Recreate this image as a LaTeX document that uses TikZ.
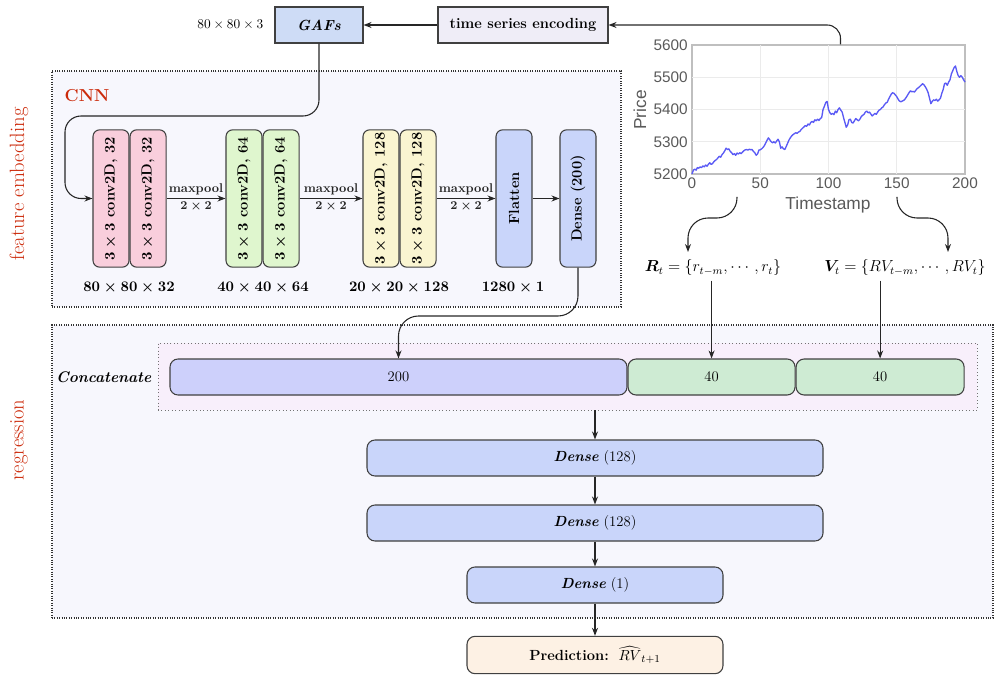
\documentclass[tikz,border=0pt]{standalone}
\usepackage{amsmath,amssymb,bm}
\usepackage{graphicx}
\usepackage{fontspec}
\newfontfamily\chartfont{Liberation Sans}
\usetikzlibrary{arrows.meta, positioning, backgrounds, calc}

\definecolor{labelred}{HTML}{CC2B0C}
\definecolor{regionbg}{HTML}{F7F7FD}
\definecolor{catbg}{HTML}{F8EFFB}
\definecolor{convpink}{HTML}{F9CEDC}
\definecolor{convgreen}{HTML}{DFF6CE}
\definecolor{convyellow}{HTML}{FAF5D1}
\definecolor{layerblue}{HTML}{C9D5FA}
\definecolor{catblue}{HTML}{CDD0FB}
\definecolor{catgreen}{HTML}{CEEBD3}
\definecolor{gafblue}{HTML}{CEDCF6}
\definecolor{encbg}{HTML}{EFEDF7}
\definecolor{predbg}{HTML}{FDF1E4}
\definecolor{chartline}{HTML}{5A5AF5}

\begin{document}
\begin{tikzpicture}[
    x=0.75pt, y=-0.75pt,
    font=\fontsize{11}{13}\selectfont,
    region/.style={rectangle, draw=black!80, densely dotted, line width=0.8pt, fill=regionbg, inner sep=0pt},
    sidelbl/.style={rotate=90, text=labelred, font=\fontsize{15.5}{18}\selectfont},
    topbox/.style={rectangle, draw=black!75, line width=0.8pt, minimum height=27pt, inner sep=0pt, font=\fontsize{11}{13}\selectfont\bfseries},
    convbox/.style={rectangle, draw=black!75, line width=0.8pt, rounded corners=5pt, minimum width=27pt, minimum height=103pt, inner sep=0pt, font=\fontsize{11}{13}\selectfont\bfseries\boldmath},
    dimlbl/.style={font=\fontsize{11}{13}\selectfont\bfseries\boldmath},
    poollbl/.style={font=\fontsize{9.5}{11}\selectfont\bfseries\boldmath, inner sep=2pt},
    catbox/.style={rectangle, draw=black!75, line width=0.8pt, rounded corners=6pt, minimum height=27pt, inner sep=0pt},
    densebox/.style={rectangle, draw=black!75, line width=0.8pt, rounded corners=6pt, fill=layerblue, minimum height=27pt, inner sep=0pt},
    ticklbl/.style={font=\chartfont\fontsize{11.5}{13}\selectfont, text=black!65, inner sep=1pt},
    gridline/.style={black!8, line width=0.6pt},
    arrow/.style={-{Stealth[length=6pt, width=4.5pt]}, line width=0.8pt, black!85}
]
    \useasboundingbox (0,0) rectangle (996,677);

    % Regions
    \node[region, minimum width=426.75pt, minimum height=177pt] (cnnreg) at (336.5,189) {};
    \node[region, minimum width=705.75pt, minimum height=219.75pt] (regreg) at (522.5,471.5) {};
    \node[sidelbl] (featlbl) at (19,184) {feature embedding};
    \node[sidelbl] (reglbl) at (19,440) {regression};
    \node[anchor=west, text=labelred, font=\fontsize{13}{15}\selectfont\bfseries] (cnnlbl) at (60,96) {CNN};

    % Input encoding
    \node[topbox, fill=gafblue, minimum width=66pt] (gafs) at (319,25) {\textit{GAFs}};
    \node[anchor=east, font=\fontsize{10}{12}\selectfont] (gafsize) at (268,25) {$80\times80\times3$};
    \node[topbox, fill=encbg, minimum width=127.5pt] (enc) at (523,25) {time series encoding};

    % Price chart
    \node[rectangle, draw=black!25, line width=0.8pt, fill=white, minimum width=204.75pt, minimum height=96.75pt, inner sep=0pt] (chart) at (828.5,109.5) {};
    \begin{scope}[shift={(692,174)}, x=1.02375pt, y=0.241875pt]
        \foreach \t in {50,100,150} \draw[gridline] (\t,0) -- (\t,400);
        \foreach \p in {100,200,300} \draw[gridline] (0,\p) -- (200,\p);
        \foreach \t in {0,50,...,200} \node[ticklbl, below] (xt\t) at (\t,-6) {\t};
        \foreach \p in {0,100,...,400} \node[ticklbl, left] (yt\p) at (-2,\p) {\the\numexpr5200+\p\relax};
        \draw[chartline, line width=1pt, line join=round] plot coordinates {
            (0,0)(1,12)(2,15)(3,12)(4,20)(5,18)(6,22)(7,20)(8,25)(9,22)(10,28)(11,24)(12,30)(13,35)(14,30)(15,32)(16,38)(17,42)(18,45)(19,50)
            (20,55)(21,52)(22,60)(23,65)(24,72)(25,80)(26,76)(27,78)(28,70)(29,66)(30,60)(31,63)(32,58)(33,65)(34,62)(35,66)(36,63)(37,68)(38,72)(39,75)
            (40,76)(41,74)(42,77)(43,75)(44,76)(45,70)(46,66)(47,58)(48,62)(49,74)(50,75)(51,78)(52,82)(53,88)(54,96)(55,105)(56,112)(57,106)(58,100)(59,97)
            (60,100)(61,96)(62,102)(63,108)(64,100)(65,80)(66,84)(67,78)(68,76)(69,85)(70,95)(71,105)(72,112)(73,118)(74,122)(75,125)(76,128)(77,126)(78,130)(79,132)
            (80,138)(81,142)(82,146)(83,150)(84,148)(85,155)(86,152)(87,160)(88,163)(89,160)(90,168)(91,165)(92,170)(93,166)(94,172)(95,175)(96,200)(97,210)(98,222)(99,225)
            (100,200)(101,190)(102,185)(103,188)(104,184)(105,195)(106,190)(107,200)(108,205)(109,198)(110,192)(111,175)(112,160)(113,145)(114,152)(115,168)(116,170)(117,160)(118,158)(119,165)
            (120,172)(121,168)(122,165)(123,170)(124,178)(125,182)(126,185)(127,192)(128,195)(129,190)(130,192)(131,186)(132,180)(133,184)(134,188)(135,185)(136,192)(137,198)(138,200)(139,205)
            (140,208)(141,215)(142,220)(143,222)(144,232)(145,240)(146,248)(147,252)(148,250)(149,245)(150,240)(151,232)(152,226)(153,224)(154,226)(155,228)(156,232)(157,238)(158,245)(159,252)
            (160,258)(161,255)(162,256)(163,254)(164,260)(165,265)(166,268)(167,272)(168,276)(169,280)(170,276)(171,270)(172,262)(173,252)(174,235)(175,218)(176,225)(177,230)(178,228)(179,232)
            (180,226)(181,230)(182,235)(183,250)(184,262)(185,280)(186,282)(187,275)(188,285)(189,292)(190,310)(191,320)(192,330)(193,335)(194,318)(195,305)(196,300)(197,305)(198,300)(199,292)(200,285)};
    \end{scope}
    \node[rotate=90, font=\chartfont\fontsize{13}{15}\selectfont, text=black!65] (pricelbl) at (640,110) {Price};
    \node[font=\chartfont\fontsize{13}{15}\selectfont, text=black!65] (timelbl) at (828,205) {Timestamp};

    % Return and volatility series
    \node[font=\large] (rt) at (713,268) {$\boldsymbol{R}_t=\{r_{t-m},\cdots,r_t\}$};
    \node[font=\large] (vt) at (905,268) {$\boldsymbol{V}_t=\{RV_{t-m},\cdots,RV_t\}$};
    \coordinate (rstart) at (737,197);
    \coordinate (vstart) at (897,197);
    \coordinate (rend) at (688,252);
    \coordinate (vend) at (948,252);

    % CNN layers
    \node[convbox, fill=convpink] (c1a) at (111,198.5) {\rotatebox{90}{$3\times3$ conv2D, 32}};
    \node[convbox, fill=convpink, right=0pt of c1a] (c1b) {\rotatebox{90}{$3\times3$ conv2D, 32}};
    \node[convbox, fill=convgreen] (c2a) at (244,198.5) {\rotatebox{90}{$3\times3$ conv2D, 64}};
    \node[convbox, fill=convgreen, right=0pt of c2a] (c2b) {\rotatebox{90}{$3\times3$ conv2D, 64}};
    \node[convbox, fill=convyellow] (c3a) at (381,198.5) {\rotatebox{90}{$3\times3$ conv2D, 128}};
    \node[convbox, fill=convyellow, right=0pt of c3a] (c3b) {\rotatebox{90}{$3\times3$ conv2D, 128}};
    \node[convbox, fill=layerblue] (flat) at (514,198.5) {\rotatebox{90}{Flatten}};
    \node[convbox, fill=layerblue] (d200) at (578,198.5) {\rotatebox{90}{Dense (200)}};

    \node[dimlbl] (dim1) at (129,288) {$80\times80\times32$};
    \node[dimlbl] (dim2) at (263,288) {$40\times40\times64$};
    \node[dimlbl] (dim3) at (399,288) {$20\times20\times128$};
    \node[dimlbl] (dim4) at (513,288) {$1280\times1$};

    % Concatenation
    \node[rectangle, draw=black!55, dotted, line width=0.6pt, fill=catbg, minimum width=614.25pt, minimum height=50.25pt, inner sep=0pt] (catouter) at (567.5,376.5) {};
    \node[anchor=east, font=\fontsize{11.5}{13}\selectfont\bfseries\itshape] (catlbl) at (156,377) {Concatenate};
    \node[catbox, fill=catblue, minimum width=342.75pt] (b200) at (398.5,377) {200};
    \node[catbox, fill=catgreen, minimum width=125.25pt, right=0pt of b200] (b40a) {40};
    \node[catbox, fill=catgreen, minimum width=126pt, right=0pt of b40a] (b40b) {40};

    % Dense head
    \node[densebox, minimum width=342pt] (dense1) at (595,458) {\textbf{\textit{Dense}} (128)};
    \node[densebox, minimum width=342pt] (dense2) at (595,523) {\textbf{\textit{Dense}} (128)};
    \node[densebox, minimum width=192pt] (dense3) at (595,585) {\textbf{\textit{Dense}} (1)};
    \node[densebox, fill=predbg, minimum width=192pt, minimum height=28pt] (pred) at (595,655) {\textbf{Prediction:}\ \ $\widehat{RV}_{t+1}$};

    % Arrows
    \draw[arrow] (enc) -- (gafs);
    \draw[arrow, rounded corners=10pt] ([xshift=9pt]chart.north) |- (enc.east);
    \draw[arrow, rounded corners=12pt] (gafs.south) |- (65,116) |- (c1a.west);
    \draw[arrow] (c1b) -- node[poollbl, above] {maxpool} node[poollbl, below] {$2\times2$} (c2a);
    \draw[arrow] (c2b) -- node[poollbl, above] {maxpool} node[poollbl, below] {$2\times2$} (c3a);
    \draw[arrow] (c3b) -- node[poollbl, above] {maxpool} node[poollbl, below] {$2\times2$} (flat);
    \draw[arrow] (flat) -- (d200);
    \draw[arrow, rounded corners=15pt] (rstart) -- (737,218) -| (rend);
    \draw[arrow, rounded corners=15pt] (vstart) -- (897,218) -| (vend);
    \draw[arrow] (rt.south -| b40a.north) -- (b40a.north);
    \draw[arrow] (vt.south -| b40b.north) -- (b40b.north);
    \draw[arrow, rounded corners=15pt] (d200.south) |- (490,316) -| (b200.north);
    \draw[arrow] (catouter.south -| dense1.north) -- (dense1.north);
    \draw[arrow] (dense1) -- (dense2);
    \draw[arrow] (dense2) -- (dense3);
    \draw[arrow] (dense3) -- (pred);
\end{tikzpicture}
\end{document}
